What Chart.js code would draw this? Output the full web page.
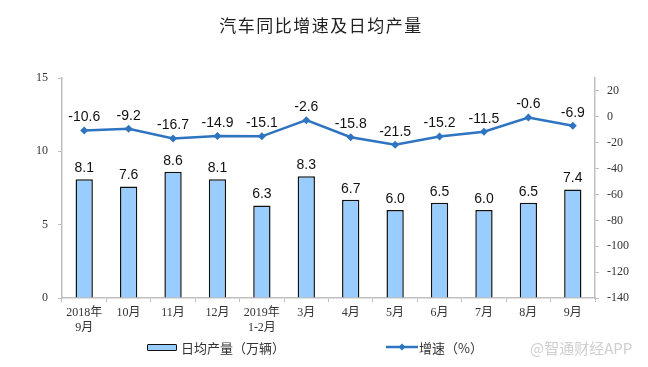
<!DOCTYPE html>
<html>
<head>
<meta charset="utf-8">
<script src="https://cdn.jsdelivr.net/npm/chart.js@4"></script>
<style>
  html, body { margin: 0; padding: 0; background: #fff; }
  #wrap { position: relative; width: 648px; height: 367px; }
  #title { position: absolute; left: 0; width: 642px; top: 12px; text-align: center;
    font: 17px "Noto Sans CJK SC", sans-serif; letter-spacing: 1.5px; color: #222; }
  .leg { position: absolute; top: 338px; font: 13px "Noto Sans CJK SC", sans-serif; color: #333; }
  #box { position: absolute; left: 147px; top: 344px; width: 28px; height: 5px;
    background: #99ccff; border: 1.5px solid #111; border-radius: 1px; }
  #wm { position: absolute; left: 530px; top: 337px; font: 15px "Noto Sans CJK SC", sans-serif; color: #cfcfcf; }
</style>
</head>
<body>
<div id="wrap">
  <canvas id="c" width="648" height="367"></canvas>
  <div id="title">汽车同比增速及日均产量</div>
  <div id="box"></div>
  <div class="leg" style="left:181px">日均产量（万辆）</div>
  <canvas id="lg" width="34" height="10" style="position:absolute;left:385px;top:342px"></canvas>
  <div class="leg" style="left:419px">增速（%）</div>
  <div id="wm">@智通财经APP</div>
</div>
<script>
const categories = [['2018年', '9月'], '10月', '11月', '12月', ['2019年', '1-2月'], '3月', '4月', '5月', '6月', '7月', '8月', '9月'];
const dailyOutput = [8.1, 7.6, 8.6, 8.1, 6.3, 8.3, 6.7, 6.0, 6.5, 6.0, 6.5, 7.4];
const growthRate = [-10.6, -9.2, -16.7, -14.9, -15.1, -2.6, -15.8, -21.5, -15.2, -11.5, -0.6, -6.9];
const leftTicks = [0, 5, 10, 15];
const rightTicks = [-140, -120, -100, -80, -60, -40, -20, 0, 20];

const barColor = '#99ccff';
const lineColor = '#2e74c0';
const axisColor = '#bfbfbf';
const tickFont = { family: '"Liberation Serif", "Noto Sans CJK SC", serif', size: 12 };

// legend line sample
(function () {
    const g = document.getElementById('lg').getContext('2d');
    g.strokeStyle = lineColor;
    g.lineWidth = 2.5;
    g.beginPath(); g.moveTo(1, 5); g.lineTo(33, 5); g.stroke();
    g.fillStyle = lineColor;
    g.beginPath(); g.moveTo(17, 1.5); g.lineTo(20.5, 5); g.lineTo(17, 8.5); g.lineTo(13.5, 5); g.closePath(); g.fill();
})();

const valueLabels = {
    id: 'valueLabels',
    afterDatasetsDraw(chart) {
        const ctx = chart.ctx;
        ctx.save();
        ctx.font = '14px "Liberation Sans", Arial, sans-serif';
        ctx.fillStyle = '#111';
        ctx.textAlign = 'center';
        ctx.textBaseline = 'bottom';
        chart.data.datasets.forEach((ds, di) => {
            const meta = chart.getDatasetMeta(di);
            meta.data.forEach((el, i) => {
                const v = ds.data[i];
                const off = ds.type === 'line' ? 6 : 4;
                ctx.fillText(v.toFixed(1), el.x, el.y - off);
            });
        });
        ctx.restore();
    }
};

new Chart(document.getElementById('c'), {
    data: {
        labels: categories,
        datasets: [
            {
                type: 'line',
                label: '增速（%）',
                data: growthRate,
                yAxisID: 'y1',
                borderColor: lineColor,
                backgroundColor: lineColor,
                borderWidth: 2.5,
                pointStyle: 'rectRot',
                pointRadius: 4,
                pointBorderWidth: 0,
                tension: 0,
                order: 0
            },
            {
                type: 'bar',
                label: '日均产量（万辆）',
                data: dailyOutput,
                yAxisID: 'y',
                backgroundColor: barColor,
                borderColor: '#111',
                borderWidth: 1.5,
                categoryPercentage: 1,
                barPercentage: 0.39,
                order: 1
            }
        ]
    },
    options: {
        responsive: false,
        animation: false,
        layout: { padding: { top: 78, left: 0, right: 0, bottom: 0 } },
        plugins: {
            legend: { display: false },
            tooltip: { enabled: false }
        },
        scales: {
            x: {
                offset: true,
                grid: { display: true, drawOnChartArea: false, offset: true, tickLength: 4, color: axisColor },
                border: { color: axisColor, width: 1.5 },
                ticks: { color: '#333', font: tickFont, padding: 4, maxRotation: 0, autoSkip: false },
                afterFit(scale) { scale.height = 69; }
            },
            y: {
                position: 'left',
                min: 0,
                max: 15,
                grid: { display: true, drawOnChartArea: false, tickLength: 4, color: axisColor },
                border: { color: axisColor, width: 1.5 },
                ticks: { color: '#333', font: tickFont, padding: 10 },
                afterBuildTicks(scale) { scale.ticks = leftTicks.map(v => ({ value: v })); },
                afterFit(scale) { scale.width = 62; }
            },
            y1: {
                position: 'right',
                min: -140,
                max: 30,
                grid: { display: true, drawOnChartArea: false, tickLength: 4, color: axisColor },
                border: { color: axisColor, width: 1.5 },
                ticks: { color: '#333', font: tickFont, padding: 8 },
                afterBuildTicks(scale) { scale.ticks = rightTicks.map(v => ({ value: v })); },
                afterFit(scale) { scale.width = 53; }
            }
        }
    },
    plugins: [valueLabels]
});
</script>
</body>
</html>
